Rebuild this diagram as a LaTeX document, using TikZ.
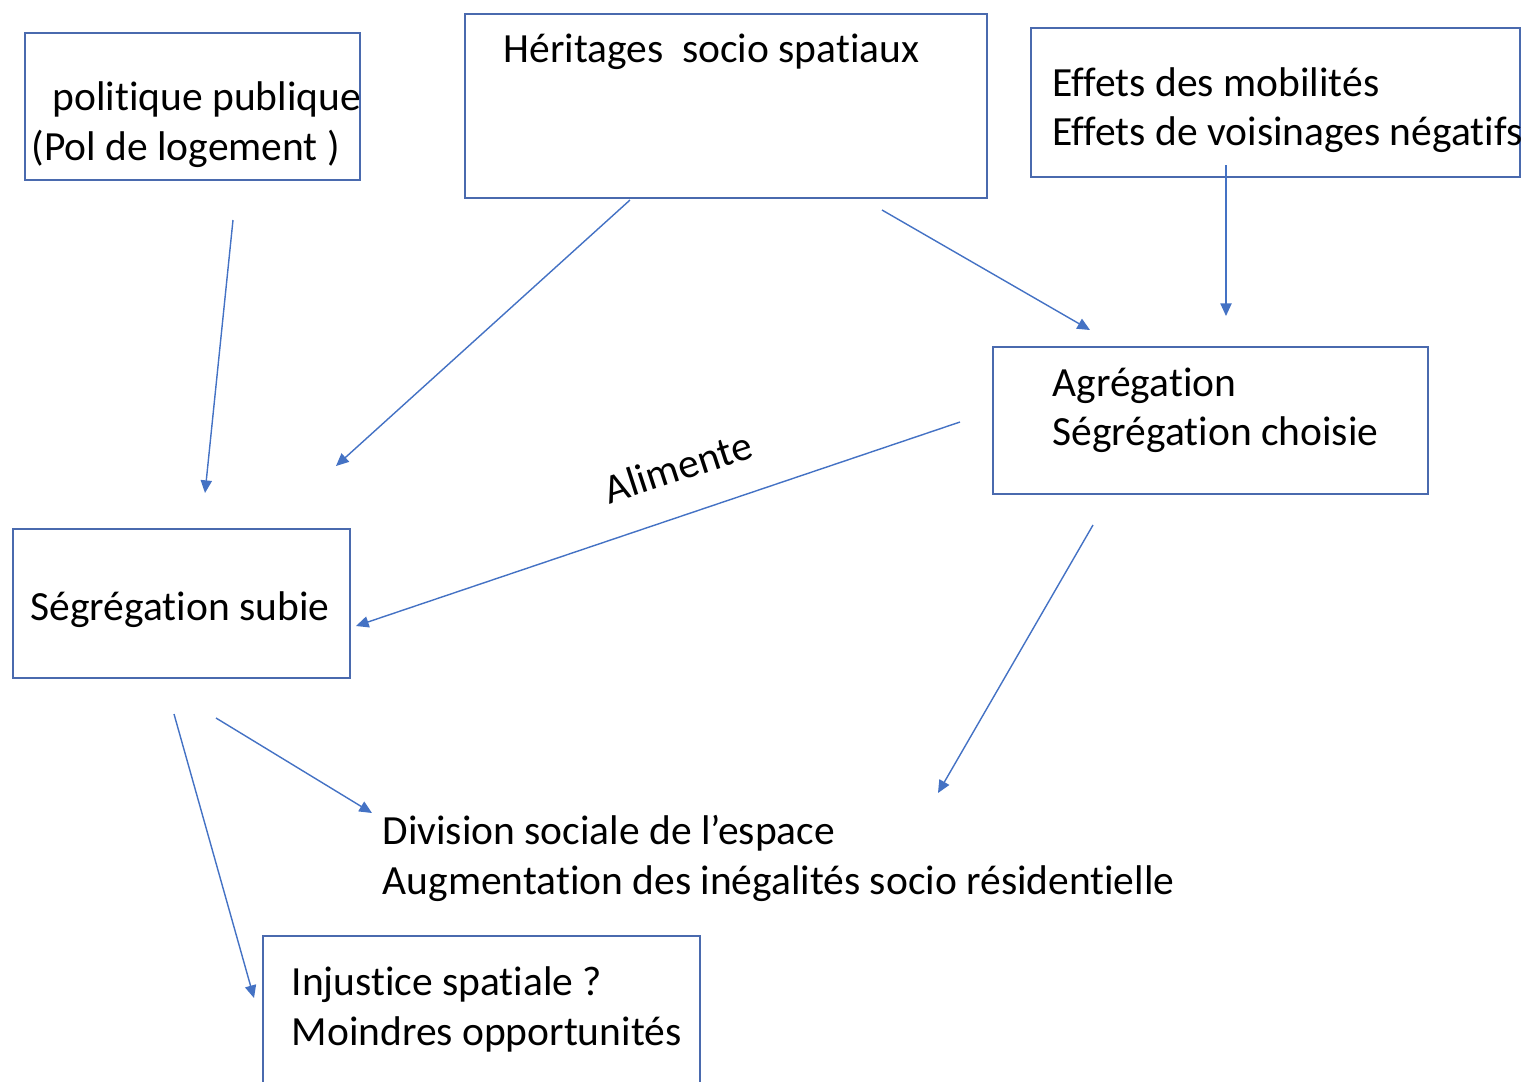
\documentclass[tikz,border=0pt]{standalone}
\usepackage{fontspec}
\setmainfont{Carlito}[Ligatures={NoCommon}]
\usetikzlibrary{arrows.meta}
\definecolor{bordbleu}{HTML}{4A6AAE}
\definecolor{flechebleu}{HTML}{4472C4}
\begin{document}
\begin{tikzpicture}[x=0.01cm,y=-0.01cm,
  cadre/.style={draw=bordbleu,line width=0.7pt,inner sep=0pt},
  texte/.style={anchor=base west,inner sep=0pt,font=\fontsize{11.8}{14.2}\selectfont},
  fleche/.style={draw=flechebleu,line width=0.4pt,-{Triangle[length=3.6pt,width=3.2pt]}}]

\useasboundingbox (0,0) rectangle (1527,1081);

% les cadres
\node[cadre,minimum width=3.35cm,minimum height=1.47cm] (politique) at (192.5,106.5) {};
\node[cadre,minimum width=5.22cm,minimum height=1.84cm] (heritages) at (726,106) {};
\node[cadre,minimum width=4.89cm,minimum height=1.49cm] (effets) at (1275.5,102.5) {};
\node[cadre,minimum width=4.35cm,minimum height=1.47cm] (agregation) at (1210.5,420.5) {};
\node[cadre,minimum width=3.37cm,minimum height=1.49cm] (subie) at (181.5,603.5) {};
\node[cadre,minimum width=4.37cm,minimum height=1.70cm] (injustice) at (481.5,1021) {};

% les textes
\node[texte] (t1) at (52,110) {politique publique};
\node[texte] (t2) at (31,160) {(Pol de logement )};
\node[texte] (t3) at (503,62) {Héritages\ \ socio spatiaux};
\node[texte] (t4) at (1052,96) {Effets des mobilités};
\node[texte] (t5) at (1052,145) {Effets de voisinages négatifs};
\node[texte] (t6) at (1052,396) {Agrégation};
\node[texte] (t7) at (1052,445) {Ségrégation choisie};
\node[texte] (t8) at (30,620) {Ségrégation subie};
\node[texte] (t9) at (382,844) {Division sociale de l’espace};
\node[texte] (t10) at (382,894) {Augmentation des inégalités socio résidentielle};
\node[texte] (t11) at (291,995) {Injustice spatiale ?};
\node[texte] (t12) at (291,1045) {Moindres opportunités};

% extremites des fleches
\coordinate (d1) at (233,220);  \coordinate (f1) at (205,493);
\coordinate (d2) at (630,200);  \coordinate (f2) at (336,466);
\coordinate (d3) at (882,210);  \coordinate (f3) at (1090,330);
\coordinate (d4) at (1226,165); \coordinate (f4) at (1226,316);
\coordinate (d5) at (960,422);  \coordinate (f5) at (356,626);
\coordinate (d6) at (1093,525); \coordinate (f6) at (938,793);
\coordinate (d7) at (216,718);  \coordinate (f7) at (372,813);
\coordinate (d8) at (174,714);  \coordinate (f8) at (254,998);

\draw[fleche] (d1)--(f1);
\draw[fleche] (d2)--(f2);
\draw[fleche] (d3)--(f3);
\draw[fleche] (d4)--(f4);
\draw[fleche] (d5)--(f5);
\draw[fleche] (d6)--(f6);
\draw[fleche] (d7)--(f7);
\draw[fleche] (d8)--(f8);

\node[font=\fontsize{11.8}{14.2}\selectfont,rotate=18,inner sep=0pt] (alimente) at (678,467) {Alimente};
\end{tikzpicture}
\end{document}
